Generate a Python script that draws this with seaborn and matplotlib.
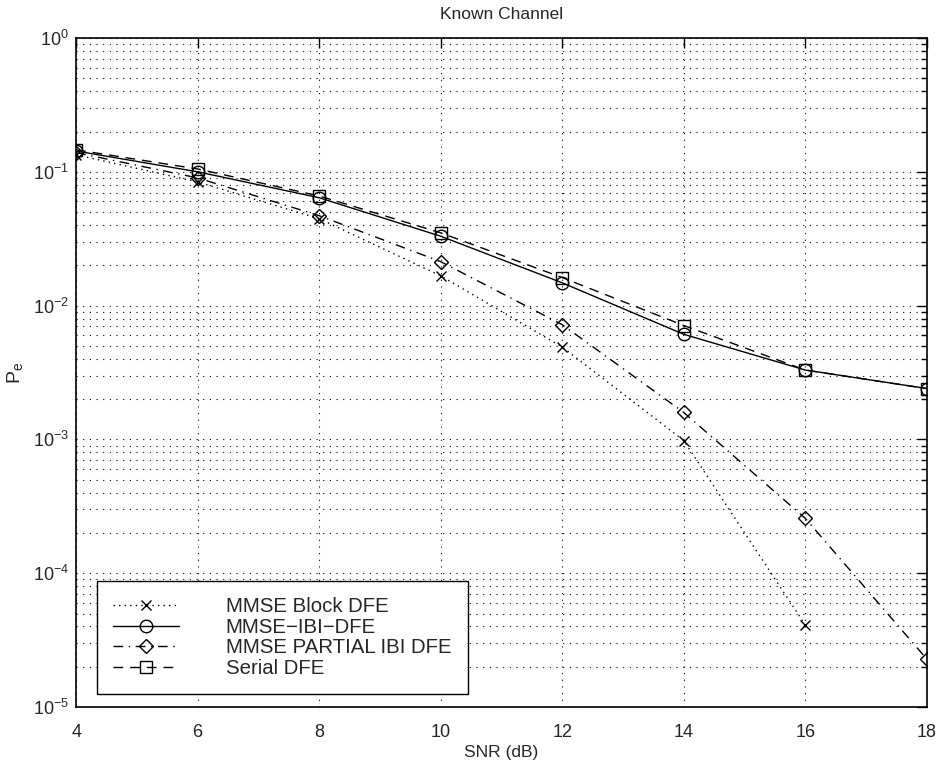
import numpy as np
import pandas as pd
import matplotlib
matplotlib.use("Agg")
import matplotlib.pyplot as plt
import seaborn as sns
from matplotlib.ticker import LogLocator, NullFormatter

snr = [4, 6, 8, 10, 12, 14, 16, 18]
block_snr = [4, 6, 8, 10, 12, 14, 16]
block_dfe = [0.134, 0.084, 0.0446, 0.0167, 0.0049, 0.00098, 4.1e-5]
ibi_dfe = [0.143, 0.100, 0.064, 0.0330, 0.0148, 0.0061, 0.0033, 0.0024]
partial_ibi = [0.139, 0.090, 0.047, 0.0213, 0.0072, 0.00159, 0.000257, 2.28e-5]
serial_dfe = [0.146, 0.105, 0.066, 0.0350, 0.0162, 0.0071, 0.0033, 0.0024]

labels = ["MMSE Block DFE", "MMSE\u2212IBI\u2212DFE", "MMSE PARTIAL IBI DFE", "Serial DFE"]
title = "Known Channel"
xlabel = "SNR (dB)"
ylabel = "P$_e$"
xticks = [4, 6, 8, 10, 12, 14, 16, 18]

sns.set_style("white")
plt.rcParams['font.family'] = ['Liberation Sans', 'DejaVu Sans']
plt.rcParams['mathtext.fontset'] = 'custom'
plt.rcParams['mathtext.rm'] = 'Liberation Sans'
plt.rcParams['mathtext.it'] = 'Liberation Sans'

fig = plt.figure(figsize=(9.4, 7.6), dpi=100)
ax = fig.add_axes([0.081, 0.0697, 0.905, 0.8803])

series = [
    (block_snr, block_dfe, labels[0], (0, (1, 3)), 'x', 7),
    (snr, ibi_dfe, labels[1], '-', 'o', 9),
    (snr, partial_ibi, labels[2], (0, (7, 4, 1, 4)), 'D', 7.5),
    (snr, serial_dfe, labels[3], (0, (7, 5)), 's', 8),
]
for xs, ys, lab, ls, mk, ms in series:
    df = pd.DataFrame({"snr": xs, "pe": ys})
    sns.lineplot(data=df, x="snr", y="pe", ax=ax, color="black", linewidth=1.0,
                 linestyle=ls, marker=mk, markersize=ms, markerfacecolor='none',
                 markeredgecolor='black', markeredgewidth=1.0, label=lab)

ax.set_yscale('log')
ax.set_xlim(4, 18)
ax.set_ylim(1e-5, 1)
ax.set_xticks(xticks)
ax.yaxis.set_major_locator(LogLocator(base=10, numticks=10))
ax.yaxis.set_minor_locator(LogLocator(base=10, subs=np.arange(2, 10), numticks=100))
ax.yaxis.set_minor_formatter(NullFormatter())

ax.grid(True, which='major', axis='both', linestyle=(0, (1, 5)), color='black', linewidth=0.8)
ax.grid(True, which='minor', axis='y', linestyle=(0, (1, 5)), color='black', linewidth=0.8)

ax.tick_params(which='both', direction='in', top=True, right=True, labelsize=13, color='black')
ax.tick_params(axis='x', pad=12)
ax.tick_params(axis='y', pad=5)
ax.tick_params(which='major', length=7, width=1)
ax.tick_params(which='minor', length=4, width=1)
for sp in ax.spines.values():
    sp.set_color('black')
    sp.set_linewidth(1.2)

ax.set_title(title, fontsize=12.5, pad=14)
ax.set_xlabel(xlabel, fontsize=12.5, labelpad=3)
ax.set_ylabel(ylabel, fontsize=14, labelpad=6)

leg = ax.legend(loc='lower left', bbox_to_anchor=(0.0247, 0.0195), borderaxespad=0,
                fontsize=14.7, frameon=True, fancybox=False, edgecolor='black',
                handlelength=3.2, borderpad=0.8, labelspacing=0.07, handletextpad=2.3)
leg.get_frame().set_linewidth(1.0)
leg.get_frame().set_alpha(1)

fig.savefig("out.png", dpi=100, facecolor='white')
